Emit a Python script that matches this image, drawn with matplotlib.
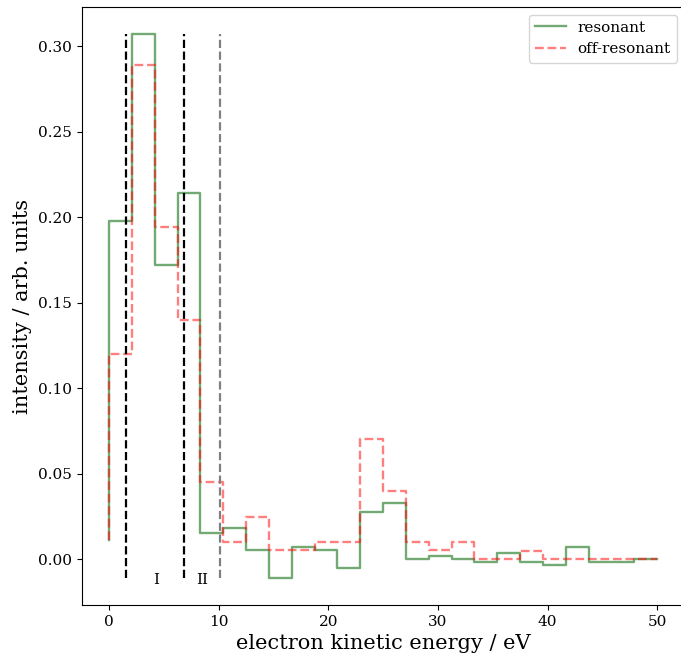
import numpy as np
import matplotlib.pyplot as plt

plt.rcParams['font.family'] = 'DejaVu Serif'

# bin edges, 24 bins over 0-50 eV
edges = np.linspace(0, 50, 25)

# step values (first entry is the start point at x=0, 'pre' steps)
resonant = [0.011, 0.198, 0.307, 0.172, 0.214, 0.015, 0.018, 0.0055, -0.011,
            0.0072, 0.0055, -0.0053, 0.0275, 0.0327, 0.000, 0.0019, 0.000,
            -0.002, 0.0037, -0.002, -0.0037, 0.007, -0.002, -0.002, 0.000]
off_resonant = [0.011, 0.120, 0.289, 0.194, 0.140, 0.045, 0.010, 0.0246, 0.005,
                0.005, 0.010, 0.010, 0.070, 0.040, 0.010, 0.005, 0.010,
                0.000, 0.000, 0.0047, 0.000, 0.000, 0.000, 0.000, 0.000]

# region boundaries
cut_black = [1.55, 6.87]
cut_gray = 10.13
region_labels = ["I", "II"]
region_x = [4.29, 8.5]

fig = plt.figure(figsize=(6.81, 6.60), dpi=100)
ax = fig.add_axes([81.6/681, 1 - 605/660, 603/681, 598/660])

ax.step(edges, resonant, where='pre', color='darkgreen', alpha=0.55, lw=1.7, label='resonant')
ax.step(edges, off_resonant, where='pre', color='r', alpha=0.5, lw=1.7, ls='--', label='off-resonant')

ymin = min(resonant)
ymax = max(resonant)
ax.vlines(cut_black, ymin, ymax, colors='k', linestyles='--', lw=1.6)
ax.vlines(cut_gray, ymin, ymax, colors='grey', linestyles='--', lw=1.6)

for lab, x in zip(region_labels, region_x):
    ax.text(x, -0.0125, lab, ha='center', va='center', fontsize=11)

ax.set_xlabel('electron kinetic energy / eV', fontsize=15)
ax.set_ylabel('intensity / arb. units', fontsize=15)
ax.tick_params(labelsize=11)
ax.legend(loc='upper right', fontsize=11)

fig.savefig('out.png')
